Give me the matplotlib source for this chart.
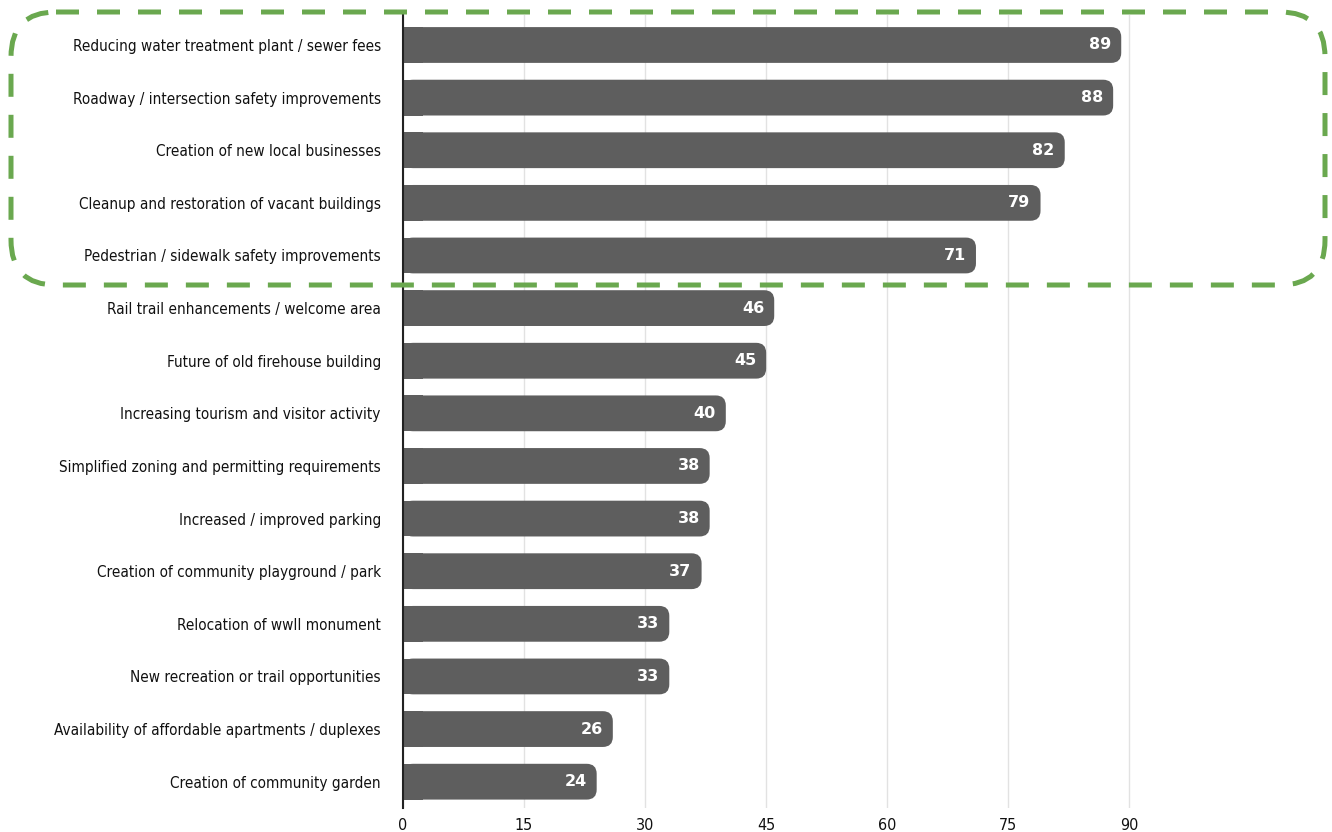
import matplotlib.pyplot as plt
from matplotlib.patches import FancyBboxPatch, Rectangle

categories = [
    "Reducing water treatment plant / sewer fees",
    "Roadway / intersection safety improvements",
    "Creation of new local businesses",
    "Cleanup and restoration of vacant buildings",
    "Pedestrian / sidewalk safety improvements",
    "Rail trail enhancements / welcome area",
    "Future of old firehouse building",
    "Increasing tourism and visitor activity",
    "Simplified zoning and permitting requirements",
    "Increased / improved parking",
    "Creation of community playground / park",
    "Relocation of wwII monument",
    "New recreation or trail opportunities",
    "Availability of affordable apartments / duplexes",
    "Creation of community garden",
]
values = [89, 88, 82, 79, 71, 46, 45, 40, 38, 38, 37, 33, 33, 26, 24]
xticks = [0, 15, 30, 45, 60, 75, 90]

bar_color = '#5e5e5e'

fig = plt.figure(figsize=(13.32, 8.32), dpi=100)
ax = fig.add_axes([403 / 1332, 24 / 832, (1210 - 403) / 1332, (817 - 24) / 832])

ax.set_xlim(0, 100)
ax.set_ylim(len(values) - 0.5, -0.57)

# pixel scale -> aspect for the rounded ends
px_x = (1210 - 403) / 100.0
px_y = (817 - 24) / (len(values) - 0.5 + 0.57)
aspect = px_x / px_y
r = 10 / px_x
h = 0.68

for i, v in enumerate(values):
    box = FancyBboxPatch((0, i - h / 2), v, h,
                         boxstyle="round,pad=0,rounding_size=%f" % r,
                         mutation_aspect=aspect, fc=bar_color, ec='none', zorder=2)
    ax.add_patch(box)
    ax.add_patch(Rectangle((0, i - h / 2), r * 2, h, fc=bar_color, ec='none', zorder=2))
    ax.text(v - 10 / px_x, i, str(v), ha='right', va='center', color='white',
            fontsize=11.5, fontweight='bold', zorder=3)

ax.set_yticks(range(len(categories)))
ax.set_yticklabels(categories, family='DejaVu Sans', fontstretch='condensed',
                   fontsize=11, color='#111111')
ax.set_xticks(xticks)
ax.set_xticklabels([str(t) for t in xticks], family='DejaVu Sans', fontstretch='condensed',
                   fontsize=11.5, color='#111111')
ax.tick_params(axis='y', length=0, pad=16)
ax.tick_params(axis='x', length=0, pad=7)

ax.grid(axis='x', color='#e2e2e2', linewidth=1, zorder=0)
ax.set_axisbelow(True)
for s in ['top', 'right', 'bottom']:
    ax.spines[s].set_visible(False)
ax.spines['left'].set_color('#222222')
ax.spines['left'].set_linewidth(1.5)
ax.spines['left'].set_zorder(4)

# green dashed highlight around the top five
ov = fig.add_axes([0, 0, 1, 1], facecolor='none')
ov.set_xlim(0, 1332)
ov.set_ylim(832, 0)
ov.axis('off')
hl = FancyBboxPatch((11, 12), 1314, 273, boxstyle="round,pad=0,rounding_size=45",
                    fc='none', ec='#6aa84f', lw=3.6, linestyle=(0, (4.6, 3.6)), zorder=10)
ov.add_patch(hl)

fig.savefig('out.png', dpi=100)
